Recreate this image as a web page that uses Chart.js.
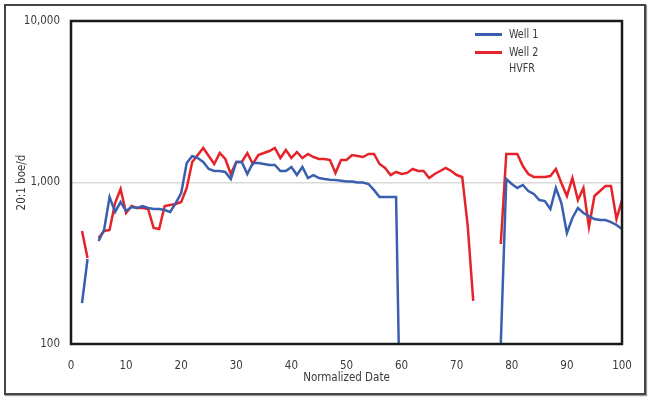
<!DOCTYPE html>
<html>
<head>
<meta charset="utf-8">
<script src="https://cdn.jsdelivr.net/npm/chart.js@4/dist/chart.umd.min.js"></script>
<style>
  body { margin: 0; background: #fff; }
  #wrap { position: relative; width: 650px; height: 399px; }
  #frame { position: absolute; left: 4px; top: 4px; width: 638px; height: 387px; border: 2px solid #444; box-shadow: 1px 1px 1px #999; }
  canvas { position: absolute; left: 0; top: 0; }
  #legend { position: absolute; left: 475px; top: 26px; font: 13px "Liberation Sans Narrow", "DejaVu Sans Condensed", sans-serif; color: #3a3a3a; }
  .item { display: flex; align-items: flex-start; margin-bottom: 2px; line-height: 16px; }
  .swatch { width: 27px; height: 3px; margin-top: 7px; margin-right: 7px; }
  .txt { transform: scaleX(0.82); transform-origin: left top; }
</style>
</head>
<body>
<div id="wrap">
  <div id="frame"></div>
  <canvas id="chart" width="650" height="399"></canvas>
  <div id="legend"></div>
</div>
<script>
// Normalized date 0..100
const dates = Array.from({ length: 101 }, (_, i) => i);

// boe/d, null where there is no data
const well1 = [
  null, null, 179, 336, null, 434, 508, 813, 657, 757,
  666, 705, 695, 715, 695, 685, 685, 676, 657, 746,
  861, 1321, 1459, 1418, 1340, 1213, 1178, 1178, 1162, 1051,
  1340, 1340, 1129, 1321, 1321, 1302, 1283, 1283, 1178, 1178,
  1248, 1112, 1248, 1066, 1112, 1066, 1051, 1040, 1035, 1025,
  1015, 1015, 1000, 1000, 979, 897, 813, 813, 813, 813,
  10, null, null, null, null, null, null, null, null, null,
  null, null, null, null, null, null, null, null, 100, 1051,
  979, 925, 965, 886, 849, 779, 768, 685, 925, 746,
  487, 603, 695, 647, 620, 594, 586, 586, 569, 546,
  515
];

const well2 = [
  null, null, 501, 341, null, 453, 501, 508, 746, 912,
  647, 715, 695, 695, 685, 523, 515, 715, 726, 736,
  757, 925, 1340, 1480, 1636, 1459, 1302, 1523, 1398, 1129,
  1340, 1340, 1523, 1302, 1480, 1523, 1567, 1636, 1418, 1590,
  1418, 1545, 1418, 1501, 1438, 1398, 1398, 1378, 1146, 1378,
  1378, 1480, 1459, 1438, 1501, 1501, 1302, 1230, 1112, 1162,
  1129, 1146, 1213, 1178, 1178, 1066, 1129, 1178, 1230, 1178,
  1112, 1082, 538, 185, null, null, null, null, 416, 1501,
  1501, 1501, 1265, 1129, 1082, 1082, 1082, 1097, 1213, 993,
  825, 1066, 779, 925, 530, 825, 886, 951, 951, 594,
  779
];

const yTicks = [100, 1000, 10000];
const FONT = '"Liberation Sans Narrow", "DejaVu Sans Condensed", sans-serif';
const TXT = '#3a3a3a';

const toPoints = (vals) => dates.map((d, i) => ({ x: d, y: vals[i] }));

const datasets = [
  { label: ['Well 1'], data: toPoints(well1), borderColor: '#3a5fae' },
  { label: ['Well 2', 'HVFR'], data: toPoints(well2), borderColor: '#e5232b' }
];

// black frame around the plot area
const plotBorder = {
  id: 'plotBorder',
  afterDraw(chart) {
    const { ctx, chartArea: a } = chart;
    ctx.save();
    ctx.strokeStyle = '#1a1a1a';
    ctx.lineWidth = 2.5;
    ctx.strokeRect(a.left, a.top, a.right - a.left, a.bottom - a.top);
    ctx.restore();
  }
};

new Chart(document.getElementById('chart'), {
  type: 'line',
  data: {
    datasets: datasets.map(ds => ({
      label: ds.label.join(' '),
      data: ds.data,
      borderColor: ds.borderColor,
      borderWidth: 2.5,
      pointRadius: 0,
      tension: 0,
      spanGaps: false
    }))
  },
  options: {
    responsive: false,
    animation: false,
    layout: { padding: { left: 0, top: 21, right: 28, bottom: 0 } },
    plugins: { legend: { display: false }, tooltip: { enabled: false } },
    scales: {
      x: {
        type: 'linear',
        min: 0,
        max: 100,
        afterFit: s => { s.height = 55; },
        grid: { display: false },
        border: { display: false },
        ticks: { stepSize: 10, padding: 7, color: TXT, font: { family: FONT, size: 11.5 }, maxRotation: 0 },
        title: { display: true, text: 'Normalized Date', color: TXT, font: { family: FONT, size: 11.5 }, padding: { top: 0, bottom: 14 } }
      },
      y: {
        type: 'logarithmic',
        min: 100,
        max: 10000,
        afterFit: s => { s.width = 71; },
        afterBuildTicks: s => { s.ticks = yTicks.map(v => ({ value: v })); },
        grid: {
          drawTicks: false,
          color: c => (c.tick && c.tick.value === 1000 ? '#d9d9d9' : 'rgba(0,0,0,0)'),
          lineWidth: 1.5
        },
        border: { display: false },
        ticks: {
          padding: 11,
          color: TXT,
          font: { family: FONT, size: 11.5 },
          callback: v => v.toLocaleString('en-US')
        },
        title: { display: true, text: '20:1 boe/d', color: TXT, font: { family: FONT, size: 11.5 }, padding: { top: 15, bottom: 0 } }
      }
    }
  },
  plugins: [plotBorder]
});

// legend with the two-line label
const legend = document.getElementById('legend');
datasets.forEach(ds => {
  const item = document.createElement('div');
  item.className = 'item';
  item.innerHTML = '<div class="swatch" style="background:' + ds.borderColor + '"></div><div class="txt">' + ds.label.join('<br>') + '</div>';
  legend.appendChild(item);
});
</script>
</body>
</html>
